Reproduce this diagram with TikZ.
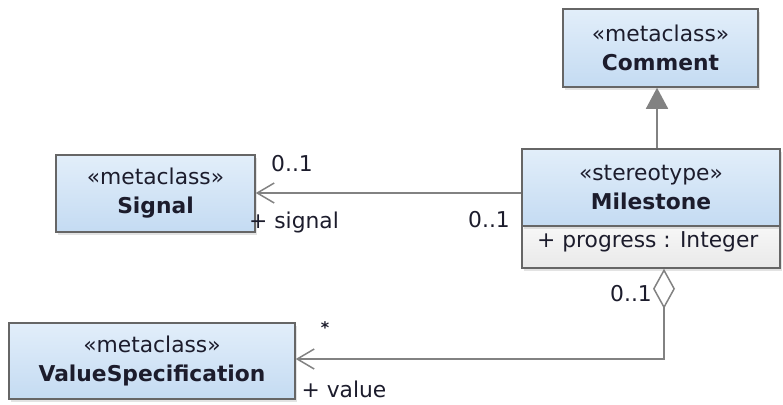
\documentclass[tikz,border=0pt]{standalone}
\usepackage{fontspec}
\setmainfont{DejaVu Sans}
\usetikzlibrary{arrows.meta,shadows,calc}
\definecolor{bordergray}{HTML}{666666}
\definecolor{linegray}{HTML}{828282}
\definecolor{topblue}{HTML}{E2EEFA}
\definecolor{botblue}{HTML}{C4DBF2}
\definecolor{topgray}{HTML}{F7F7F7}
\definecolor{botgray}{HTML}{E9E9E9}
\definecolor{txt}{HTML}{1C1C2C}
\tikzset{
  every node/.style={text=txt, font=\fontsize{21.8}{29}\selectfont},
  umlbox/.style={draw=bordergray, line width=1.5pt, rectangle, inner sep=0pt,
    top color=topblue, bottom color=botblue, align=center,
    drop shadow={shadow xshift=1.5pt, shadow yshift=-3pt, opacity=0.22}},
  attrbox/.style={draw=bordergray, line width=1.5pt, rectangle, inner sep=0pt,
    top color=topgray, bottom color=botgray,
    drop shadow={shadow xshift=1.5pt, shadow yshift=-3pt, opacity=0.22}},
  conn/.style={draw=linegray, line width=1.5pt},
  navarrow/.style={conn, -{Straight Barb[length=17pt,width=20pt,line width=1.5pt]}},
  genarrow/.style={conn, -{Triangle[length=21pt,width=22pt,fill=linegray]}},
  aggline/.style={conn, {Diamond[open,length=40pt,width=22pt,line width=1.5pt]}-{Straight Barb[length=17pt,width=20pt,line width=1.5pt]}},
  lbl/.style={inner sep=0pt}
}
\begin{document}
\begin{tikzpicture}[x=1pt,y=-1pt]
\useasboundingbox (0,0) rectangle (783,404);
% boxes
\node[umlbox, minimum width=195pt, minimum height=78pt] (comment) at (660.5,48)
  {«metaclass»\\\textbf{Comment}};
\node[umlbox, minimum width=199pt, minimum height=77pt] (signal) at (155.5,193.5)
  {«metaclass»\\\textbf{Signal}};
\node[attrbox, minimum width=258pt, minimum height=42pt] (msattr) at (651,247) {};
\node[umlbox, minimum width=258pt, minimum height=77pt] (msname) at (651,187.5)
  {«stereotype»\\\textbf{Milestone}};
\node[lbl, anchor=west] (attr) at (537,242) {+ progress : Integer};
\node[umlbox, minimum width=286pt, minimum height=76pt] (vs) at (152,361)
  {«metaclass»\\\textbf{ValueSpecification}};
% connectors
\coordinate (g) at (657,0);
\draw[genarrow] (msname.north -| g) -- (comment.south -| g);
\coordinate (a) at (0,193);
\draw[navarrow] (msname.west |- a) -- (signal.east |- a);
\coordinate (d) at (664,0);
\coordinate (bend) at (664,359);
\draw[aggline] (msattr.south -| d) -- (bend) -- (vs.east |- bend);
% labels
\node[lbl] (l1) at (292,164) {0..1};
\node[lbl] (l2) at (294,222) {+ signal};
\node[lbl] (l3) at (489,220) {0..1};
\node[lbl] (l4) at (631,294) {0..1};
\node[lbl, font=\fontsize{16}{16}\selectfont\bfseries] (l5) at (325,328) {*};
\node[lbl] (l6) at (344,389) {+ value};
\end{tikzpicture}
\end{document}
